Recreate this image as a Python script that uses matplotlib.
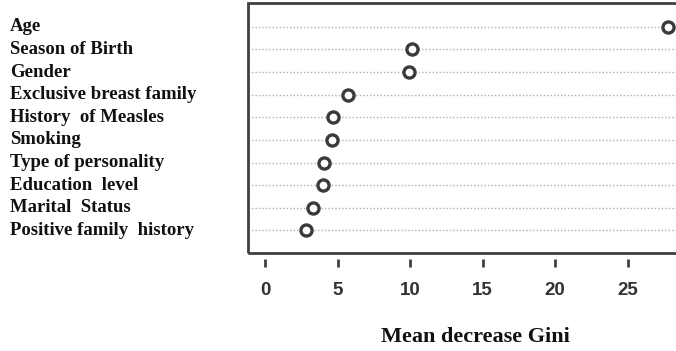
import matplotlib
matplotlib.use("Agg")
import matplotlib.pyplot as plt
from matplotlib.patches import Rectangle
from matplotlib.transforms import blended_transform_factory

# variable importance from the random forest
variables = ["Age", "Season of Birth", "Gender", "Exclusive breast family",
             "History  of Measles", "Smoking", "Type of personality",
             "Education  level", "Marital  Status", "Positive family  history"]
gini = [27.8, 10.1, 9.9, 5.7, 4.7, 4.6, 4.1, 4.0, 3.3, 2.8]
xticks = [0, 5, 10, 15, 20, 25]

# tick numbers are in a bold sans font
plt.rcParams["font.family"] = "Liberation Sans"
plt.rcParams["font.weight"] = "bold"

fig = plt.figure(figsize=(6.76, 3.51), dpi=100)
ax = fig.add_axes([248/676, 98/351, 432/676, 250/351])

n = len(variables)
ypos = list(range(n, 0, -1))

# dotted guide lines like R's dotchart
for y in ypos:
    ax.axhline(y, color="#b0b0b0", lw=1.0, ls=(0, (1, 1.5)), zorder=1)

ax.plot(gini, ypos, ls="none", marker="o", ms=8, mfc="white",
        mec="#3a3a3a", mew=2.4, zorder=3)

ax.set_xlim(-1.17, 28.6)
ax.set_ylim(0, n + 1.05)
ax.set_yticks([])
ax.set_xticks(xticks)

for s in ["top", "left", "right"]:
    ax.spines[s].set_visible(False)
ax.spines["bottom"].set_position(("outward", 4))
ax.spines["bottom"].set_color("none")
ax.tick_params(axis="x", direction="out", length=6, width=2, color="#404040",
               pad=11, labelsize=13.5, labelcolor="#333333")

# box around the plot region
ax.add_patch(Rectangle((0, 0), 1, 1, transform=ax.transAxes, fill=False,
                       ec="#404040", lw=2, clip_on=False, zorder=4))

# variable names on the left
trans = blended_transform_factory(fig.transFigure, ax.transData)
for name, y in zip(variables, ypos):
    ax.text(10/676, y, name, transform=trans, ha="left", va="center",
            fontsize=13.5, fontweight="bold", family="Liberation Serif",
            color="#111111", clip_on=False)

fig.text(475/676, 14/351, "Mean decrease Gini", ha="center", va="center",
         fontsize=16, fontweight="bold", family="Liberation Serif", color="#111111")

fig.savefig("out.png", dpi=100)
